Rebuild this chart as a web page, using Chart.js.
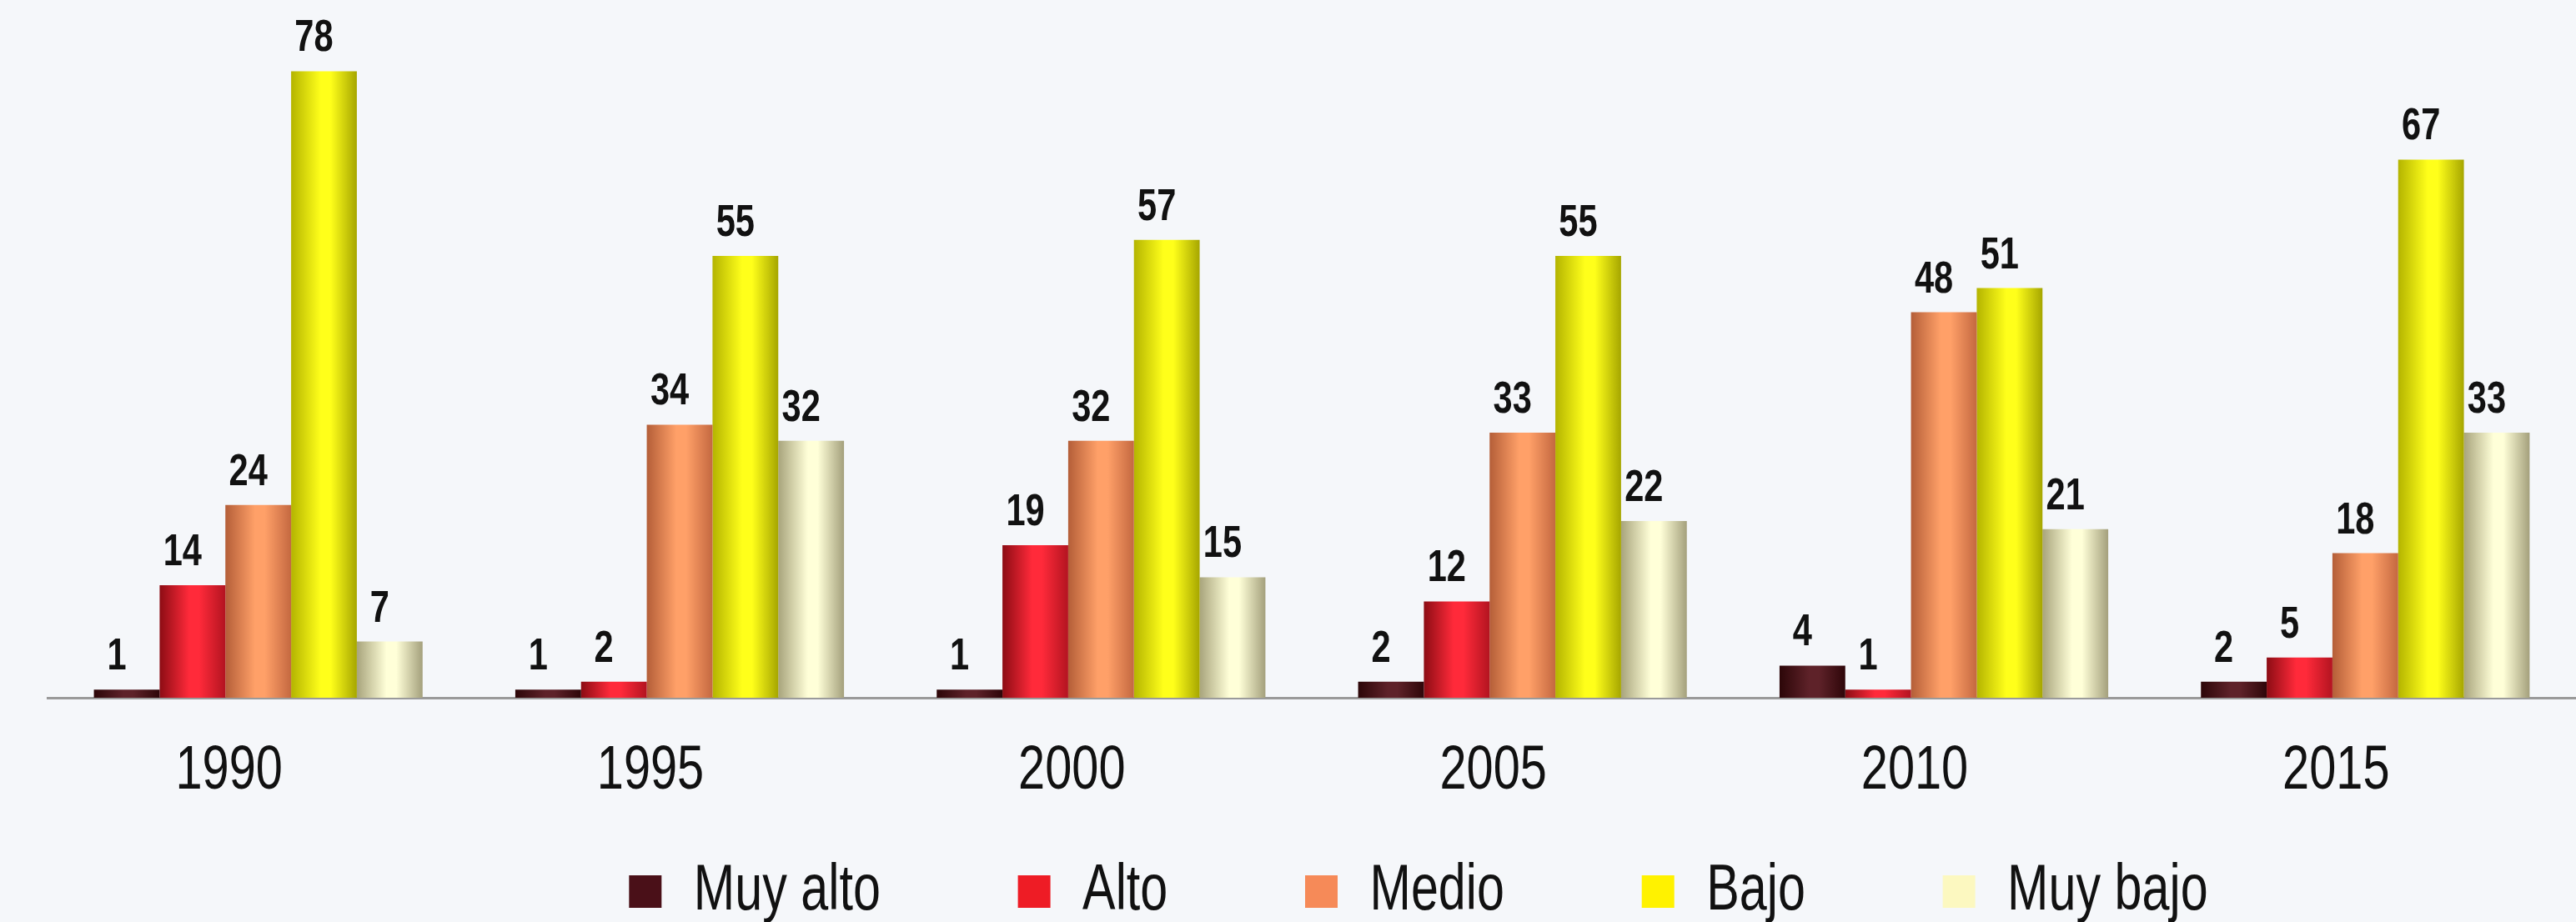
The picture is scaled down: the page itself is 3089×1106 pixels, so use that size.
<!DOCTYPE html>
<html>
<head>
<meta charset="utf-8">
<script src="https://cdn.jsdelivr.net/npm/chart.js@4.4.1/dist/chart.umd.min.js"></script>
<style>
  html, body { margin: 0; background: #f5f7fa; }
</style>
</head>
<body>
<canvas id="myChart" width="3089" height="1106"></canvas>
<script>
// data
const years = ['1990', '1995', '2000', '2005', '2010', '2015'];
const levels = ['Muy alto', 'Alto', 'Medio', 'Bajo', 'Muy bajo'];
const muyAlto = [1, 1, 1, 2, 4, 2];
const alto = [14, 2, 19, 12, 1, 5];
const medio = [24, 34, 32, 33, 48, 18];
const bajo = [78, 55, 57, 55, 51, 67];
const muyBajo = [7, 32, 15, 22, 21, 33];
const yMax = 85;

// styles
const FONT = "'Liberation Sans', Arial, sans-serif";
const NARROW = 0.77; // no Arial Narrow here, squeeze Liberation Sans instead
const CAT_PCT = 0.78;
const flat = ['#4a1018', '#ee1c25', '#f68a58', '#fff200', '#fcf8c0'];
const shades = [
    ['#2c0608', '#5e2229', '#2e0609'],
    ['#8c0c14', '#ff2a3a', '#b31420'],
    ['#b45e38', '#ffa068', '#c46840'],
    ['#b4b400', '#ffff1a', '#a6a600'],
    ['#a8a47c', '#ffffd8', '#a4a07c']
];
const GAP = '          ';

const canvas = document.getElementById('myChart');
const g2d = canvas.getContext('2d');
const rawFill = g2d.fillText.bind(g2d);
const rawMeasure = g2d.measureText.bind(g2d);
g2d.fillText = function (text, x, y) {
    g2d.save();
    g2d.translate(x, y);
    g2d.scale(NARROW, 1);
    rawFill(text, 0, 0);
    g2d.restore();
};
g2d.measureText = function (text) {
    const m = rawMeasure(text);
    return {
        width: m.width * NARROW,
        actualBoundingBoxAscent: m.actualBoundingBoxAscent,
        actualBoundingBoxDescent: m.actualBoundingBoxDescent,
        actualBoundingBoxLeft: m.actualBoundingBoxLeft * NARROW,
        actualBoundingBoxRight: m.actualBoundingBoxRight * NARROW
    };
};

function barFill(ctx) {
    const i = ctx.datasetIndex;
    if (ctx.type !== 'data') return flat[i];
    const chart = ctx.chart;
    const xs = chart.scales.x;
    if (!xs || !chart.chartArea) return flat[i];
    const n = chart.data.datasets.length;
    const bw = (xs.width / years.length) * CAT_PCT / n;
    const cx = xs.getPixelForValue(ctx.dataIndex) + (i - (n - 1) / 2) * bw;
    const g = chart.ctx.createLinearGradient(cx - bw / 2, 0, cx + bw / 2, 0);
    const s = shades[i];
    g.addColorStop(0, s[0]);
    g.addColorStop(0.45, s[1]);
    g.addColorStop(0.6, s[1]);
    g.addColorStop(1, s[2]);
    return g;
}

const valueLabels = {
    id: 'valueLabels',
    afterDatasetsDraw(chart) {
        const c = chart.ctx;
        c.save();
        c.font = 'bold 54px ' + FONT;
        c.fillStyle = '#111';
        c.textAlign = 'center';
        c.textBaseline = 'alphabetic';
        chart.data.datasets.forEach((ds, i) => {
            chart.getDatasetMeta(i).data.forEach((bar, j) => {
                c.fillText(ds.data[j], bar.x - 12, bar.y - 24);
            });
        });
        c.restore();
    }
};

// legend sits right of centre in the original
const legendShift = {
    id: 'legendShift',
    afterLayout(chart) {
        chart.legend.left += 128;
        chart.legend.right += 128;
    }
};

const series = [muyAlto, alto, medio, bajo, muyBajo];

new Chart(canvas, {
    type: 'bar',
    data: {
        labels: years,
        datasets: series.map((vals, i) => ({
            label: levels[i],
            data: vals,
            backgroundColor: barFill,
            borderWidth: 0,
            categoryPercentage: CAT_PCT,
            barPercentage: 1
        }))
    },
    options: {
        responsive: false,
        animation: false,
        layout: { padding: { top: 18, left: 57, right: 0, bottom: -12 } },
        scales: {
            x: {
                grid: { display: false, drawTicks: false },
                border: { display: true, color: '#9a9a9a', width: 3 },
                ticks: {
                    color: '#111',
                    font: { size: 75, family: FONT },
                    padding: 43,
                    labelOffset: -35,
                    maxRotation: 0,
                    autoSkip: false
                },
                title: { display: true, text: '', padding: 0, font: { size: 18, lineHeight: 1 } }
            },
            y: {
                display: false,
                min: 0,
                max: yMax
            }
        },
        plugins: {
            legend: {
                position: 'bottom',
                labels: {
                    color: '#111',
                    font: { size: 77, family: FONT },
                    boxWidth: 39,
                    boxHeight: 39,
                    padding: 0,
                    generateLabels(chart) {
                        const items = Chart.defaults.plugins.legend.labels.generateLabels(chart);
                        items.forEach((it, k) => {
                            it.fillStyle = flat[k];
                            it.lineWidth = 0;
                            if (k < items.length - 1) it.text += GAP;
                        });
                        return items;
                    }
                }
            },
            tooltip: { enabled: false }
        }
    },
    plugins: [valueLabels, legendShift]
});
</script>
</body>
</html>
